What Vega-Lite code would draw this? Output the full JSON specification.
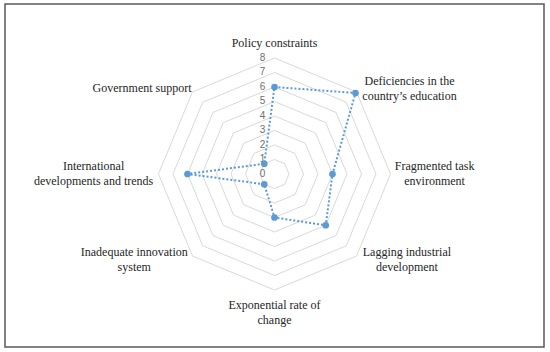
{
  "$schema": "https://vega.github.io/schema/vega-lite/v6.json",
  "width": 539,
  "height": 343,
  "autosize": "none",
  "padding": {"left": 5, "top": 4, "right": 6, "bottom": 5},
  "background": "white",
  "config": {
    "view": {"stroke": "#595959", "strokeWidth": 1.5},
    "axis": {"disable": true}
  },
  "datasets": {
    "axes": [
      {"axis": "Policy constraints", "idx": 0, "value": 6},
      {"axis": "Deficiencies in the\ncountry’s education", "idx": 1, "value": 7.9},
      {"axis": "Fragmented task\nenvironment", "idx": 2, "value": 4},
      {"axis": "Lagging industrial\ndevelopment", "idx": 3, "value": 5},
      {"axis": "Exponential rate of\nchange", "idx": 4, "value": 3},
      {"axis": "Inadequate innovation\nsystem", "idx": 5, "value": 1},
      {"axis": "International\ndevelopments and trends", "idx": 6, "value": 6},
      {"axis": "Government support", "idx": 7, "value": 1}
    ],
    "levels": [
      {"level": 1, "spokes": [0, 1, 2, 3, 4, 5, 6, 7]},
      {"level": 2, "spokes": [0, 1, 2, 3, 4, 5, 6, 7]},
      {"level": 3, "spokes": [0, 1, 2, 3, 4, 5, 6, 7]},
      {"level": 4, "spokes": [0, 1, 2, 3, 4, 5, 6, 7]},
      {"level": 5, "spokes": [0, 1, 2, 3, 4, 5, 6, 7]},
      {"level": 6, "spokes": [0, 1, 2, 3, 4, 5, 6, 7]},
      {"level": 7, "spokes": [0, 1, 2, 3, 4, 5, 6, 7]},
      {"level": 8, "spokes": [0, 1, 2, 3, 4, 5, 6, 7]}
    ],
    "ticks": [
      {"t": 0}, {"t": 1}, {"t": 2}, {"t": 3}, {"t": 4},
      {"t": 5}, {"t": 6}, {"t": 7}, {"t": 8}
    ]
  },
  "layer": [
    {
      "data": {"name": "levels"},
      "transform": [
        {"flatten": ["spokes"], "as": ["idx"]},
        {"calculate": "datum.idx * PI / 4", "as": "ang"},
        {"calculate": "datum.level * sin(datum.ang)", "as": "px"},
        {"calculate": "datum.level * cos(datum.ang)", "as": "py"}
      ],
      "mark": {"type": "line", "interpolate": "linear-closed", "stroke": "#D9D9D9", "strokeWidth": 1},
      "encoding": {
        "x": {"field": "px", "type": "quantitative", "scale": {"domain": [-18.586, 18.586], "nice": false, "zero": false}},
        "y": {"field": "py", "type": "quantitative", "scale": {"domain": [-11.931, 11.724], "nice": false, "zero": false}},
        "detail": {"field": "level", "type": "nominal"},
        "order": {"field": "idx", "type": "quantitative"}
      }
    },
    {
      "data": {"name": "ticks"},
      "mark": {"type": "text", "dx": -12, "align": "center", "baseline": "middle", "font": "Liberation Sans", "fontSize": 10, "color": "#6F6F6F"},
      "encoding": {
        "x": {"datum": 0, "type": "quantitative"},
        "y": {"field": "t", "type": "quantitative"},
        "text": {"field": "t", "type": "quantitative"}
      }
    },
    {
      "data": {"name": "axes"},
      "transform": [
        {"calculate": "datum.idx * PI / 4", "as": "ang"},
        {"calculate": "datum.value * sin(datum.ang)", "as": "px"},
        {"calculate": "datum.value * cos(datum.ang)", "as": "py"}
      ],
      "mark": {"type": "line", "interpolate": "linear-closed", "stroke": "#5B9BD5", "strokeWidth": 2, "strokeDash": [2, 2]},
      "encoding": {
        "x": {"field": "px", "type": "quantitative"},
        "y": {"field": "py", "type": "quantitative"},
        "order": {"field": "idx", "type": "quantitative"}
      }
    },
    {
      "data": {"name": "axes"},
      "transform": [
        {"calculate": "datum.idx * PI / 4", "as": "ang"},
        {"calculate": "datum.value * sin(datum.ang)", "as": "px"},
        {"calculate": "datum.value * cos(datum.ang)", "as": "py"}
      ],
      "mark": {"type": "point", "filled": true, "size": 45, "color": "#5B9BD5", "opacity": 1},
      "encoding": {
        "x": {"field": "px", "type": "quantitative"},
        "y": {"field": "py", "type": "quantitative"}
      }
    },
    {
      "data": {"name": "axes"},
      "transform": [
        {"calculate": "datum.idx * PI / 4", "as": "ang"},
        {"calculate": "split(datum.axis, '\\n')", "as": "lines"},
        {"calculate": "max(length(datum.lines[0]), datum.lines.length > 1 ? length(datum.lines[1]) : 0)", "as": "maxLen"},
        {"calculate": "sin(datum.ang)", "as": "s"},
        {"calculate": "cos(datum.ang)", "as": "c"},
        {"calculate": "8.35 * datum.s + (abs(datum.s) > 0.1 ? (datum.s > 0 ? 1 : -1) * datum.maxLen * 2.6 / 14.5 : 0)", "as": "lx"},
        {"calculate": "8.35 * datum.c + (abs(datum.s) < 0.1 ? (datum.c > 0 ? 1 : -1) * (datum.lines.length * 7.5 + 2) / 14.5 : 0) + (datum.lines.length - 1) * 7.5 / 14.5", "as": "ly"}
      ],
      "mark": {"type": "text", "align": "center", "baseline": "middle", "lineBreak": "\n", "lineHeight": 15, "font": "Liberation Serif", "fontSize": 12, "color": "#262626"},
      "encoding": {
        "x": {"field": "lx", "type": "quantitative"},
        "y": {"field": "ly", "type": "quantitative"},
        "text": {"field": "axis", "type": "nominal"}
      }
    }
  ]
}
